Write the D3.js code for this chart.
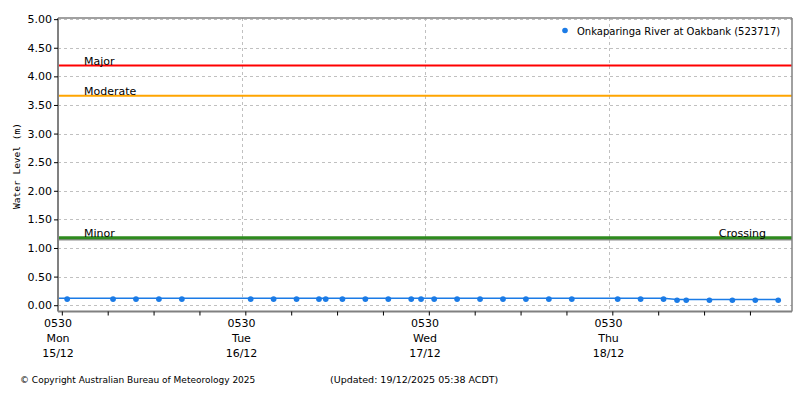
<!DOCTYPE html>
<html>
<head>
<meta charset="utf-8">
<script src="https://cdn.jsdelivr.net/npm/d3@7"></script>
<style>
  body { margin: 0; background: #fff; }
  text { font-family: "DejaVu Sans", sans-serif; }
</style>
</head>
<body>
<svg id="chart"></svg>
<script>
// data
var seriesName = "Onkaparinga River at Oakbank (523717)";
var times = [
  "2025-12-15T03:42",
  "2025-12-15T06:42", "2025-12-15T12:42", "2025-12-15T15:42", "2025-12-15T18:42", "2025-12-15T21:42",
  "2025-12-16T06:42", "2025-12-16T09:42", "2025-12-16T12:42", "2025-12-16T15:38", "2025-12-16T16:31",
  "2025-12-16T18:42", "2025-12-16T21:42",
  "2025-12-17T00:42", "2025-12-17T03:42", "2025-12-17T04:59", "2025-12-17T06:42", "2025-12-17T09:42",
  "2025-12-17T12:42", "2025-12-17T15:42", "2025-12-17T18:42", "2025-12-17T21:42",
  "2025-12-18T00:42", "2025-12-18T06:42", "2025-12-18T09:42", "2025-12-18T12:42", "2025-12-18T14:28",
  "2025-12-18T15:40", "2025-12-18T18:42", "2025-12-18T21:42",
  "2025-12-19T00:42", "2025-12-19T03:42"
];
var levels = [
  0.12,
  0.12, 0.12, 0.12, 0.12, 0.12,
  0.12, 0.12, 0.12, 0.12, 0.12,
  0.12, 0.12,
  0.12, 0.12, 0.12, 0.12, 0.12,
  0.12, 0.12, 0.12, 0.12,
  0.12, 0.12, 0.12, 0.12, 0.10,
  0.10, 0.10, 0.10,
  0.10, 0.10
];

var thresholdNames  = ["Crossing", "Minor", "Moderate", "Major"];
var thresholdValues = [1.15, 1.18, 3.66, 4.19];
var thresholdColors = ["#8c8c8c", "#2e8b1e", "#ffa500", "#ff0000"];

var yTicks = [0, 0.5, 1, 1.5, 2, 2.5, 3, 3.5, 4, 4.5, 5];
var dayTicks   = ["2025-12-15T05:30", "2025-12-16T05:30", "2025-12-17T05:30", "2025-12-18T05:30"];
var dayNames   = ["Mon", "Tue", "Wed", "Thu"];
var dayDates   = ["15/12", "16/12", "17/12", "18/12"];
var timeStart = "2025-12-15T05:30";
var timeEnd   = "2025-12-19T05:30";

var width = 800, height = 400;
var margin = { top: 18, right: 8, bottom: 88.5, left: 58 };

var parse = d3.utcParse("%Y-%m-%dT%H:%M");
var data = times.map((t, i) => ({ t: parse(t), v: levels[i] }));

var svg = d3.select("#chart")
  .attr("width", width)
  .attr("height", height);

var x = d3.scaleUtc()
  .domain([parse(timeStart), parse(timeEnd)])
  .range([margin.left, width - margin.right]);

var y = d3.scaleLinear()
  .domain([-0.11, 5.02])
  .range([height - margin.bottom, margin.top]);

svg.append("clipPath").attr("id", "plot")
  .append("rect")
  .attr("x", margin.left)
  .attr("y", margin.top)
  .attr("width", width - margin.left - margin.right)
  .attr("height", height - margin.top - margin.bottom);

// horizontal dashed grid
svg.append("g")
  .selectAll("line")
  .data(yTicks)
  .enter()
  .append("line")
  .attr("x1", margin.left)
  .attr("x2", width - margin.right)
  .attr("y1", d => Math.round(y(d)) + 0.5)
  .attr("y2", d => Math.round(y(d)) + 0.5)
  .attr("stroke", "#c0c0c0")
  .attr("stroke-dasharray", "3,3");

// vertical dashed grid at day ticks
svg.append("g")
  .selectAll("line")
  .data(dayTicks)
  .enter()
  .append("line")
  .attr("x1", d => Math.round(x(parse(d))) + 0.5)
  .attr("x2", d => Math.round(x(parse(d))) + 0.5)
  .attr("y1", margin.top)
  .attr("y2", height - margin.bottom)
  .attr("stroke", "#c0c0c0")
  .attr("stroke-dasharray", "3,3");

// threshold lines
thresholdNames.forEach((name, i) => {
  svg.append("line")
    .attr("x1", margin.left)
    .attr("x2", width - margin.right)
    .attr("y1", y(thresholdValues[i]))
    .attr("y2", y(thresholdValues[i]))
    .attr("stroke", thresholdColors[i])
    .attr("stroke-width", name == "Minor" ? 3 : 2);
});

thresholdNames.forEach((name, i) => {
  var crossing = name == "Crossing";
  svg.append("text")
    .attr("x", crossing ? 766 : 84)
    .attr("y", y(crossing ? thresholdValues[1] : thresholdValues[i]) - 0.5)
    .attr("text-anchor", crossing ? "end" : "start")
    .style("font-size", "11px")
    .attr("fill", "#000")
    .text(name);
});

// series
var line = d3.line().x(d => x(d.t)).y(d => y(d.v));
var series = svg.append("g").attr("clip-path", "url(#plot)");
series.append("path")
  .datum(data)
  .attr("d", line)
  .attr("fill", "none")
  .attr("stroke", "#1b7be6")
  .attr("stroke-width", 1.5);
series.selectAll("circle")
  .data(data)
  .enter()
  .append("circle")
  .attr("cx", d => x(d.t))
  .attr("cy", d => y(d.v) + 0.8)
  .attr("r", 2.8)
  .attr("fill", "#1b7be6");

// frame
var frame = svg.append("g").attr("stroke", "#808080").attr("fill", "none");
frame.append("line")
  .attr("x1", margin.left).attr("x2", width - margin.right)
  .attr("y1", margin.top).attr("y2", margin.top)
  .attr("stroke-width", 1.5);
frame.append("line")
  .attr("x1", width - margin.right).attr("x2", width - margin.right)
  .attr("y1", margin.top).attr("y2", height - margin.bottom)
  .attr("stroke-width", 1.5);

// y axis
var yAxis = d3.axisLeft(y)
  .tickValues(yTicks)
  .tickFormat(d3.format(".2f"))
  .tickSize(4)
  .tickPadding(2);
var yg = svg.append("g")
  .attr("transform", "translate(" + margin.left + ",0)")
  .call(yAxis);
yg.select(".domain").attr("stroke", "#808080").attr("stroke-width", 2)
  .attr("d", "M0," + margin.top + "V" + (height - margin.bottom));
yg.selectAll(".tick line").attr("stroke", "#000");
yg.selectAll(".tick text").style("font-size", "11px").style("font-family", "DejaVu Sans").attr("fill", "#000");

// x axis: ticks every 6 hours
var xAxis = d3.axisBottom(x)
  .tickValues(d3.utcHour.every(6).range(parse(timeStart), d3.utcMinute.offset(parse(timeEnd), 1)))
  .tickSize(4)
  .tickFormat("");
var xg = svg.append("g")
  .attr("transform", "translate(0," + (height - margin.bottom) + ")")
  .call(xAxis);
xg.select(".domain").attr("stroke", "#808080").attr("stroke-width", 2)
  .attr("d", "M" + margin.left + ",0H" + (width - margin.right));
xg.selectAll(".tick line").attr("stroke", "#000");

// day labels, three lines each
dayTicks.forEach((d, i) => {
  var t = svg.append("text")
    .attr("x", x(parse(d)))
    .attr("text-anchor", "middle")
    .style("font-size", "11px")
    .attr("fill", "#000");
  t.append("tspan").attr("x", x(parse(d))).attr("y", 327).text(d.slice(11, 13) + d.slice(14, 16));
  t.append("tspan").attr("x", x(parse(d))).attr("y", 342).text(dayNames[i]);
  t.append("tspan").attr("x", x(parse(d))).attr("y", 357).text(dayDates[i]);
});

// y axis title
svg.append("text")
  .attr("transform", "translate(19.5,166) rotate(-90)")
  .attr("text-anchor", "middle")
  .style("font-family", "DejaVu Sans Mono")
  .style("font-size", "9.5px")
  .attr("fill", "#000")
  .text("Water Level (m)");

// legend
svg.append("circle")
  .attr("cx", 565)
  .attr("cy", 30.5)
  .attr("r", 2.8)
  .attr("fill", "#1b7be6");
svg.append("text")
  .attr("x", 577)
  .attr("y", 35)
  .style("font-size", "10px")
  .attr("fill", "#000")
  .text(seriesName);

// footer
svg.append("text")
  .attr("x", 20)
  .attr("y", 383)
  .style("font-size", "9px")
  .attr("fill", "#000")
  .text("© Copyright Australian Bureau of Meteorology 2025");
svg.append("text")
  .attr("x", 330)
  .attr("y", 383)
  .style("font-size", "9.5px")
  .attr("fill", "#000")
  .text("(Updated: 19/12/2025 05:38 ACDT)");
</script>
</body>
</html>
